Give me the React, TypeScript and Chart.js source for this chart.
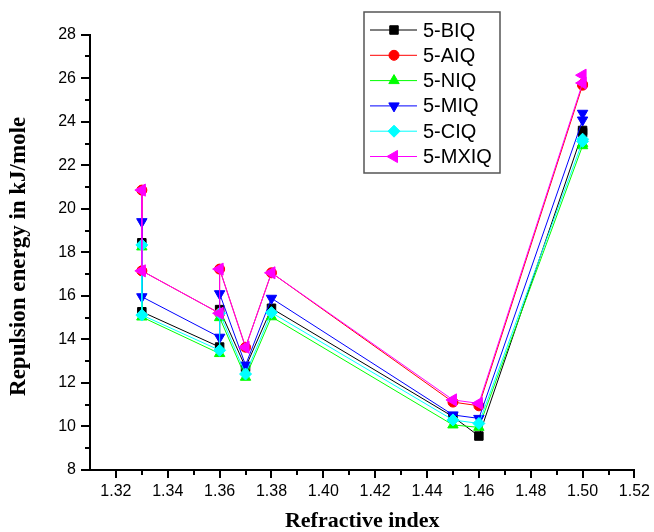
import React, { useEffect, useRef } from "react";
import { Chart, registerables } from "chart.js";

Chart.register(...registerables);

// Refractive index of each measured point (shared by all series)
const refractiveIndex = [1.33, 1.33, 1.36, 1.36, 1.37, 1.38, 1.45, 1.46, 1.5, 1.5];

const seriesNames = ["5-BIQ", "5-AIQ", "5-NIQ", "5-MIQ", "5-CIQ", "5-MXIQ"];
const biq = [18.44, 15.27, 13.65, 15.37, 12.72, 15.43, 10.45, 9.56, 23.5, 23.6];
const aiq = [20.86, 17.15, 15.2, 17.23, 13.64, 17.06, 11.12, 10.95, 25.68, 25.72];
const niq = [18.25, 15.03, 13.35, 15.0, 12.26, 15.04, 10.07, 9.96, 22.9, 23.0];
const miq = [19.41, 15.96, 14.1, 16.1, 12.82, 15.89, 10.53, 10.37, 24.08, 24.39];
const ciq = [18.34, 15.12, 13.5, 15.2, 12.41, 15.23, 10.3, 10.14, 23.1, 23.2];
const mxiq = [20.86, 17.15, 15.2, 17.23, 13.64, 17.06, 11.22, 11.06, 25.78, 26.14];

const xTicks = [1.32, 1.34, 1.36, 1.38, 1.4, 1.42, 1.44, 1.46, 1.48, 1.5, 1.52];
const xMinorTicks = [1.33, 1.35, 1.37, 1.39, 1.41, 1.43, 1.45, 1.47, 1.49, 1.51];
const yMinorTicks = [9, 11, 13, 15, 17, 19, 21, 23, 25, 27];

const seriesValues = [biq, aiq, niq, miq, ciq, mxiq];
const colors = ["#000000", "#ff0000", "#00ff00", "#0000ff", "#00ffff", "#ff00ff"];
const markerStyles = ["rect", "circle", "triangle", "triangle", "rectRot", "triangle"];
const markerRotations = [0, 0, 0, 180, 0, 270];
const markerRadius = [6, 5, 6, 6, 6, 7];

function drawMarker(ctx: CanvasRenderingContext2D, style: string, x: number, y: number, r: number, rotDeg: number, color: string) {
  ctx.save();
  ctx.fillStyle = color;
  ctx.strokeStyle = color;
  ctx.lineWidth = 1;
  ctx.beginPath();
  const rad = (rotDeg * Math.PI) / 180;
  if (style === "rect") {
    const s = Math.SQRT1_2 * r;
    ctx.rect(x - s, y - s, 2 * s, 2 * s);
  } else if (style === "circle") {
    ctx.arc(x, y, r, 0, Math.PI * 2);
  } else if (style === "triangle") {
    let a = rad;
    ctx.moveTo(x + Math.sin(a) * r, y - Math.cos(a) * r);
    a += (2 * Math.PI) / 3;
    ctx.lineTo(x + Math.sin(a) * r, y - Math.cos(a) * r);
    a += (2 * Math.PI) / 3;
    ctx.lineTo(x + Math.sin(a) * r, y - Math.cos(a) * r);
    ctx.closePath();
  } else if (style === "rectRot") {
    ctx.moveTo(x, y - r);
    ctx.lineTo(x + r, y);
    ctx.lineTo(x, y + r);
    ctx.lineTo(x - r, y);
    ctx.closePath();
  }
  ctx.fill();
  ctx.stroke();
  ctx.restore();
}

const decorPlugin = {
  id: "decor",
  afterDraw(chart: any) {
    const ctx: CanvasRenderingContext2D = chart.ctx;
    const xs = chart.scales.x;
    const ys = chart.scales.y;
    const { left, right, top, bottom } = chart.chartArea;
    ctx.save();
    ctx.strokeStyle = "#000";
    ctx.lineWidth = 2;
    ctx.beginPath();
    for (const v of yMinorTicks) {
      const py = Math.round(ys.getPixelForValue(v));
      ctx.moveTo(left - 5, py);
      ctx.lineTo(left, py);
    }
    for (const v of xMinorTicks) {
      const px = Math.round(xs.getPixelForValue(v));
      ctx.moveTo(px, bottom);
      ctx.lineTo(px, bottom + 5);
    }
    ctx.stroke();

    // axis titles
    ctx.fillStyle = "#000";
    ctx.font = 'bold 22px "Liberation Serif", "Times New Roman", serif';
    ctx.textAlign = "center";
    ctx.textBaseline = "middle";
    ctx.fillText("Refractive index", (left + right) / 2, 521);
    ctx.save();
    ctx.font = 'bold 23px "Liberation Serif", "Times New Roman", serif';
    ctx.translate(19, (top + bottom) / 2 + 4);
    ctx.rotate(-Math.PI / 2);
    ctx.fillText("Repulsion energy in kJ/mole", 0, 0);
    ctx.restore();

    // legend
    ctx.fillStyle = "#fff";
    ctx.fillRect(364, 12, 136, 161);
    ctx.strokeStyle = "#555";
    ctx.lineWidth = 1.5;
    ctx.strokeRect(364, 12, 136, 161);
    ctx.font = '20px "Liberation Sans", Arial, sans-serif';
    ctx.textAlign = "left";
    for (let i = 0; i < seriesNames.length; i++) {
      const y = 30 + i * 25.3;
      ctx.strokeStyle = colors[i];
      ctx.lineWidth = 1;
      ctx.beginPath();
      ctx.moveTo(370, y);
      ctx.lineTo(417, y);
      ctx.stroke();
      drawMarker(ctx, markerStyles[i], 394, y, markerRadius[i], markerRotations[i], colors[i]);
      ctx.fillStyle = "#000";
      ctx.fillText(seriesNames[i], 423, y + 1);
    }
    ctx.restore();
  },
};

export default function App() {
  const canvasRef = useRef<HTMLCanvasElement | null>(null);

  useEffect(() => {
    if (!canvasRef.current) return;
    const n = seriesNames.length;
    const datasets = seriesValues.map((vals, i) => ({
      label: seriesNames[i],
      data: refractiveIndex.map((x, j) => ({ x, y: vals[j] })),
      borderColor: colors[i],
      backgroundColor: colors[i],
      borderWidth: 1,
      pointStyle: markerStyles[i] as any,
      pointRotation: markerRotations[i],
      pointRadius: markerRadius[i],
      pointBorderWidth: 1,
      pointBackgroundColor: colors[i],
      pointBorderColor: colors[i],
      tension: 0,
      fill: false,
      order: n - i,
    }));

    const tickFont = { family: '"Liberation Sans", Arial, sans-serif', size: 16 };

    const chart = new Chart(canvasRef.current, {
      type: "line",
      data: { datasets },
      options: {
        animation: false,
        responsive: false,
        maintainAspectRatio: false,
        layout: { padding: { left: 0, top: 34.7, right: 19, bottom: 0 } },
        plugins: { legend: { display: false }, tooltip: { enabled: false } },
        scales: {
          x: {
            type: "linear",
            min: 1.31,
            max: 1.52,
            afterBuildTicks: (scale: any) => {
              scale.ticks = xTicks.map((v) => ({ value: v }));
            },
            afterFit: (scale: any) => {
              scale.height = 62;
            },
            ticks: {
              font: tickFont,
              color: "#000",
              padding: 4,
              maxRotation: 0,
              autoSkip: false,
              callback: (v: any) => Number(v).toFixed(2),
            },
            grid: { display: true, drawOnChartArea: false, drawTicks: true, tickLength: 8, color: "#000", lineWidth: 2 },
            border: { display: true, color: "#000", width: 2 },
          },
          y: {
            type: "linear",
            min: 8,
            max: 28,
            afterFit: (scale: any) => {
              scale.width = 90;
            },
            ticks: {
              stepSize: 2,
              font: tickFont,
              color: "#000",
              padding: 5,
            },
            grid: { display: true, drawOnChartArea: false, drawTicks: true, tickLength: 9, color: "#000", lineWidth: 2 },
            border: { display: true, color: "#000", width: 2 },
          },
        },
      },
      plugins: [decorPlugin],
    });
    return () => chart.destroy();
  }, []);

  return (
    <div style={{ position: "fixed", left: 0, top: 0, width: 654, height: 532, background: "#fff" }}>
      <canvas ref={canvasRef} width={654} height={532} style={{ display: "block", width: 654, height: 532 }} />
    </div>
  );
}
